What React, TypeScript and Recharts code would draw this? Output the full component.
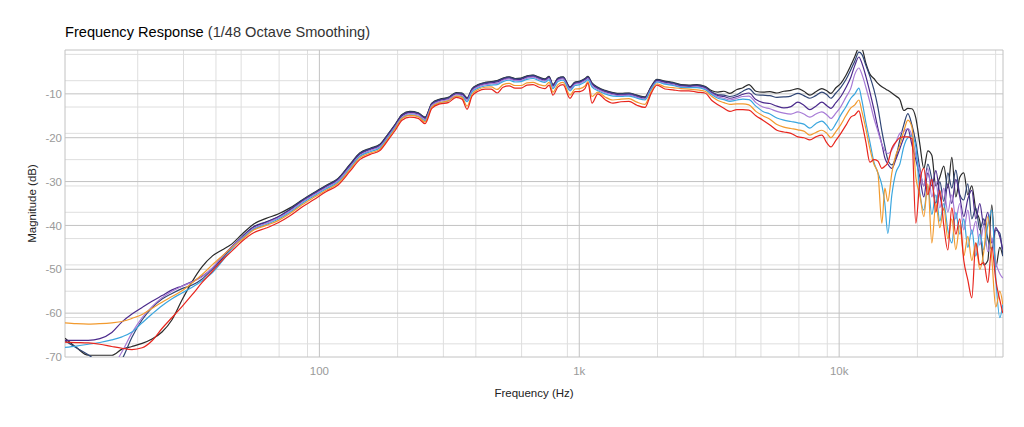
import { LineChart, Line, XAxis, YAxis, CartesianGrid, Label } from "recharts";

// frequency points (Hz)
const FREQS = [
  10.5, 11.6, 12.9, 14.3, 15.9, 17.4, 19.0, 20.8, 22.7, 24.8, 27.1, 29.6, 32.4, 35.4, 38.7, 42.2, 46.1, 50.4,
  56.1, 62.4, 69.4, 77.1, 85.8, 95.4, 106, 118, 131, 143, 157, 171, 184,
  196, 208, 223, 240, 255, 271, 291, 313, 336, 354, 370, 387, 408, 434, 458, 483, 509, 537, 566, 597, 629, 664,
  700, 738, 765, 792, 828, 866, 921, 963, 1006, 1052, 1080, 1119, 1180, 1256, 1348, 1447, 1553, 1667, 1789, 1887,
  1990, 2136, 2293, 2461, 2642, 2836, 3044,
  3238, 3416, 3601, 3797, 4042, 4262, 4495, 4782, 5088, 5414, 5760, 6129, 6522, 6938, 7315, 7715, 8135, 8580,
  8970, 9292, 9712, 10150, 10610, 11090,
  11490, 11910, 12230, 12670, 13130, 13600, 14090, 14600, 14990, 15390, 15950, 16520, 17120, 17740, 18380, 19040,
  19720, 20440, 21170, 21940, 22730, 23550, 24400, 25270, 26190, 27130, 28110, 29120, 30170, 31260, 32390, 33560,
  34770, 36020, 37320, 38670, 40060, 41510, 42620,
];

const BLACK = [
  -65.7, -67.8, -69.6, -69.6, -69.6, -68.2, -67.6, -66.9, -65.9, -64.3, -61.5, -57.0, -52.8, -49.4, -47.0, -45.6, -44.2, -42.0,
  -39.6, -38.4, -37.4, -36.0, -34.2, -32.5, -30.9, -29.3, -26.1, -23.5, -22.4, -21.5, -19.1,
  -16.9, -14.7, -14.0, -14.3, -15.3, -12.1, -11.2, -10.8, -9.7, -9.8, -10.9, -8.8, -7.9, -7.4, -7.2, -7.0, -6.4, -6.1,
  -6.5, -6.4, -5.9, -5.7, -6.2, -6.6, -6.0, -7.9, -6.4, -6.1, -8.4, -7.3, -7.1, -6.5, -6.0, -7.5, -8.5, -9.2, -9.7,
  -9.9, -9.8, -10.3, -10.7, -8.4, -6.7, -7.1, -7.4, -7.9, -8.0, -7.9, -8.3,
  -9.3, -9.6, -9.4, -9.9, -9.0, -8.6, -7.9, -9.4, -9.6, -9.5, -9.8, -9.4, -9.2, -8.8, -9.4, -10.3, -9.5, -8.8,
  -9.3, -9.9, -8.6, -7.6, -5.8, -3.5,
  -1.5, 0.5, 0.3, -3.0, -5.5, -6.5, -7.6, -8.4, -8.8, -9.2, -9.8, -10.5, -11.3, -13.8, -13.3, -13.4, -15.5, -21.5,
  -27.0, -23.0, -24.0, -31.0, -29.0, -26.5, -31.5, -24.5, -33.5, -29.0, -28.0, -33.0, -31.0, -36.5, -39.0, -49.0,
  -48.0, -35.3, -49.5, -45.0, -47.0,
];

const NAVY = [
  -66.3, -67.9, -69.5, -71.5, -73.0, -70.5, -65.5, -61.5, -58.8, -56.8, -55.5, -54.4, -53.6, -52.2, -50.0, -47.6, -45.0, -42.6,
  -40.2, -39.2, -38.0, -36.3, -34.3, -32.6, -31.0, -29.4, -26.2, -23.6, -22.5, -21.6, -19.2,
  -17.0, -14.8, -14.1, -14.4, -15.4, -12.2, -11.3, -10.9, -9.8, -9.9, -11.0, -8.9, -8.0, -7.5, -7.3, -7.1, -6.5, -6.2,
  -6.6, -6.5, -6.0, -5.8, -6.3, -6.7, -6.1, -8.0, -6.5, -6.2, -8.5, -7.4, -7.2, -6.6, -6.1, -7.6, -8.6, -9.3, -9.8,
  -10.0, -9.9, -10.4, -10.8, -8.5, -6.8, -7.2, -7.5, -8.0, -8.1, -8.0, -8.4,
  -9.6, -10.2, -10.3, -10.6, -10.2, -9.4, -8.8, -10.2, -10.3, -10.4, -10.8, -10.7, -10.5, -9.9, -10.4, -11.0, -10.4, -9.6,
  -10.2, -11.0, -9.8, -8.5, -6.8, -4.5,
  -2.5, -0.5, -1.0, -3.5, -6.0, -9.0, -13.0, -18.5, -22.0, -25.0, -26.2, -24.5, -20.5, -17.0, -14.5, -17.0, -21.0, -27.0,
  -31.0, -26.0, -29.5, -35.0, -30.0, -34.5, -28.0, -31.5, -27.4, -33.0, -34.2, -30.5, -38.5, -36.0, -41.0, -38.5,
  -43.0, -45.5, -41.0, -41.8, -47.0,
];

const PURPLE = [
  -66.2, -66.2, -66.2, -65.8, -64.4, -62.0, -60.2, -58.7, -57.3, -56.0, -54.7, -53.8, -52.8, -51.6, -49.8, -47.2, -44.8, -42.6,
  -40.3, -39.3, -38.1, -36.5, -34.5, -32.8, -31.2, -29.6, -26.4, -23.8, -22.7, -21.8, -19.4,
  -17.2, -15.0, -14.3, -14.6, -15.6, -12.4, -11.5, -11.1, -10.0, -10.1, -11.2, -9.1, -8.2, -7.7, -7.5, -7.3, -6.7, -6.4,
  -6.8, -6.7, -6.2, -6.0, -6.5, -6.9, -6.3, -8.2, -6.7, -6.4, -8.7, -7.6, -7.4, -6.8, -6.3, -7.8, -8.8, -9.5, -10.0,
  -10.2, -10.1, -10.6, -11.0, -8.7, -7.0, -7.4, -7.7, -8.2, -8.3, -8.2, -8.6,
  -9.8, -10.4, -10.6, -11.0, -10.6, -10.1, -9.8, -11.3, -12.0, -12.2, -12.8, -13.2, -12.9, -11.9, -12.6, -13.6, -12.8, -11.9,
  -12.7, -13.3, -12.0, -10.6, -8.6, -6.2,
  -3.5, -1.6, -3.0, -6.0, -9.6, -13.5, -17.8, -21.5, -24.6, -26.0, -27.0, -25.0, -22.5, -20.0, -18.0, -21.5, -25.0, -29.0,
  -33.5, -28.0, -31.0, -27.5, -33.0, -36.5, -30.5, -35.0, -29.5, -33.5, -38.0, -34.0, -32.0, -38.5, -35.0, -40.0,
  -37.0, -44.0, -40.5, -42.6, -45.5,
];

const LAVENDER = [
  -76.0, -76.0, -75.0, -74.0, -72.5, -68.8, -64.5, -61.0, -58.5, -56.5, -55.0, -53.9, -52.9, -51.7, -49.7, -47.2, -44.9, -42.8,
  -40.6, -39.5, -38.3, -36.7, -34.7, -33.0, -31.4, -29.8, -26.7, -24.1, -22.9, -22.0, -19.7,
  -17.4, -15.3, -14.5, -14.8, -15.9, -12.6, -11.7, -11.3, -10.2, -10.4, -11.5, -9.3, -8.4, -7.9, -7.7, -7.6, -6.9, -6.6,
  -7.0, -7.0, -6.4, -6.2, -6.7, -7.1, -6.5, -8.5, -6.9, -6.6, -9.0, -7.8, -7.6, -7.0, -6.6, -8.1, -9.0, -9.7, -10.2,
  -10.4, -10.3, -10.8, -11.2, -8.9, -7.2, -7.6, -7.9, -8.4, -8.5, -8.4, -8.8,
  -10.0, -10.7, -11.0, -11.4, -11.0, -10.6, -10.5, -12.0, -13.0, -13.4, -14.0, -14.4, -14.6, -14.1, -14.6, -15.3, -14.6, -14.1,
  -14.8, -15.6, -14.4, -12.9, -10.8, -8.7,
  -5.5, -4.1, -5.5, -8.5, -11.9, -15.5, -18.5, -21.5, -23.0, -23.6, -22.8, -21.0, -19.0, -18.5, -17.9, -19.5, -24.0, -27.5,
  -31.0, -27.0, -33.5, -30.0, -36.0, -31.5, -37.0, -33.0, -38.5, -35.0, -41.0, -36.5, -42.0, -39.0, -44.5, -40.0,
  -46.0, -43.0, -48.5, -51.0, -52.0,
];

const LIGHT_BLUE = [
  -67.8, -67.5, -67.1, -66.7, -66.1, -65.4, -64.3, -62.2, -60.2, -58.3, -56.7, -55.4, -54.1, -52.6, -50.8, -48.2, -45.3, -43.0,
  -40.8, -39.8, -38.6, -37.0, -35.0, -33.3, -31.7, -30.1, -27.0, -24.3, -23.2, -22.3, -19.9,
  -17.7, -15.5, -14.8, -15.1, -16.1, -12.9, -12.0, -11.6, -10.5, -10.6, -11.8, -9.6, -8.7, -8.2, -8.0, -7.9, -7.2, -6.9,
  -7.3, -7.2, -6.7, -6.5, -7.0, -7.4, -6.8, -8.8, -7.2, -6.9, -9.3, -8.1, -7.9, -7.3, -6.8, -8.4, -9.3, -10.0, -10.5,
  -10.6, -10.5, -11.0, -11.4, -9.1, -7.3, -7.8, -8.1, -8.5, -8.6, -8.6, -9.0,
  -10.2, -11.0, -11.3, -11.7, -11.4, -11.2, -11.3, -12.8, -14.0, -14.6, -15.5, -16.0, -16.3, -16.6, -16.9, -17.8, -16.8, -16.2,
  -17.2, -18.3, -16.8, -14.8, -13.0, -11.0,
  -10.0, -8.7, -11.5, -16.5, -21.0, -25.5, -28.0, -30.8, -35.0, -41.8, -33.0, -28.0, -26.0, -22.0, -20.0, -19.6, -22.0, -32.5,
  -36.5, -31.0, -37.5, -33.0, -39.0, -35.0, -41.0, -44.0, -37.0, -42.0, -38.5, -45.0, -41.0, -47.0, -42.0, -45.5,
  -40.0, -36.5, -52.0, -61.0, -58.0,
];

const ORANGE = [
  -62.2, -62.4, -62.5, -62.4, -62.2, -61.9, -61.2, -60.3, -58.9, -57.5, -56.2, -54.9, -53.1, -51.2, -49.0, -47.0, -45.0, -43.2,
  -41.0, -40.0, -38.9, -37.3, -35.3, -33.6, -32.0, -30.4, -27.3, -24.6, -23.5, -22.6, -20.2,
  -17.9, -15.6, -14.9, -15.2, -16.4, -13.0, -12.0, -11.6, -10.5, -10.8, -12.8, -10.1, -9.0, -8.5, -8.4, -9.0, -7.9, -7.6,
  -8.1, -8.1, -7.5, -7.4, -7.9, -8.2, -7.4, -9.6, -7.9, -7.4, -10.3, -8.9, -8.8, -8.2, -7.2, -10.6, -9.6, -10.7, -11.4,
  -11.2, -11.1, -11.9, -12.4, -9.6, -7.7, -8.4, -8.6, -8.8, -8.9, -9.1, -9.4,
  -10.6, -11.5, -12.0, -12.4, -12.3, -12.3, -12.5, -14.0, -15.0, -15.8, -17.0, -17.6, -17.9, -18.2, -18.5, -19.4, -18.8, -18.3,
  -19.0, -20.0, -18.6, -17.0, -15.0, -13.2,
  -12.5, -11.4, -14.0, -18.0, -22.5, -26.0, -28.0, -39.5, -31.5, -34.5, -28.0, -24.0, -21.7, -18.5, -16.0, -17.5, -29.0, -33.0,
  -38.0, -30.5, -44.0, -35.0, -40.5, -36.0, -43.0, -38.5, -45.5, -40.0, -47.0, -42.5, -48.0, -44.0, -50.0, -46.0,
  -38.0, -47.5, -58.6, -55.0, -58.0,
];

const RED = [
  -66.6, -66.7, -66.8, -67.1, -67.6, -68.0, -68.3, -67.9, -66.3, -63.5, -61.0, -58.5, -55.8, -53.0, -50.5, -48.0, -45.8, -43.6,
  -41.6, -40.6, -39.4, -37.8, -35.8, -34.1, -32.3, -30.8, -27.7, -25.0, -23.8, -22.9, -20.5,
  -18.3, -16.0, -15.3, -15.6, -16.8, -13.3, -12.3, -12.0, -10.8, -11.2, -13.5, -10.5, -9.4, -8.9, -8.9, -9.8, -8.5, -8.2,
  -8.7, -8.7, -8.0, -7.9, -8.5, -8.8, -8.0, -10.3, -8.4, -7.9, -11.0, -9.5, -9.5, -8.8, -7.5, -12.1, -10.0, -11.3, -12.1,
  -11.8, -11.7, -12.6, -13.1, -10.0, -8.0, -8.9, -9.1, -9.3, -9.3, -9.6, -9.8,
  -11.5, -12.5, -13.3, -14.0, -13.6, -13.6, -13.7, -15.0, -16.0, -17.1, -18.3, -18.7, -19.0, -19.8, -20.0, -20.5, -19.8, -19.4,
  -21.2, -22.1, -20.6, -19.0, -17.2, -15.3,
  -14.8, -13.9, -16.5, -21.0, -25.6, -25.0, -25.3, -27.0, -26.5, -25.7, -22.4, -21.0, -20.0, -19.8, -19.8, -20.2, -39.5, -30.0,
  -27.0, -33.0, -29.5, -37.0, -32.0, -40.0, -45.6, -36.0, -42.0, -38.5, -48.0, -52.4, -56.5, -44.0, -49.0, -48.5,
  -53.0, -45.0, -52.5, -57.0, -60.0,
];

const X_TICKS = [100, 1000, 10000];
const Y_TICKS = [-70, -60, -50, -40, -30, -20, -10];
const X_MINOR = [20, 30, 40, 50, 60, 70, 80, 90, 200, 300, 400, 500, 600, 700, 800, 900, 2000, 3000, 4000, 5000, 6000, 7000, 8000, 9000, 20000, 30000, 40000];
const X_MAJOR = [10.5, 100, 1000, 10000, 42700];
const Y_MINOR = Array.from({ length: 71 }, (_, i) => -70 + i).filter((v) => v % 10 !== 0);
const Y_MAJOR = [-70, -60, -50, -40, -30, -20, -10, 0];

const SERIES = [
  { key: "black", color: "#2a2a2a", values: BLACK },
  { key: "navy", color: "#2f4575", values: NAVY },
  { key: "purple", color: "#4b2a8c", values: PURPLE },
  { key: "lavender", color: "#a77ad6", values: LAVENDER },
  { key: "lightBlue", color: "#3aa6df", values: LIGHT_BLUE },
  { key: "orange", color: "#f29a2e", values: ORANGE },
  { key: "red", color: "#e8251d", values: RED },
];

const rows = FREQS.map((f, i) => {
  const row: Record<string, number> = { f };
  SERIES.forEach((s) => {
    row[s.key] = s.values[i];
  });
  return row;
});

const formatHz = (v: number) => (v >= 1000 ? `${v / 1000}k` : `${v}`);

const FONT = '"Liberation Sans", Arial, Helvetica, sans-serif';

export default function App() {
  return (
    <div style={{ position: "relative", width: 1008, height: 411, fontFamily: FONT }}>
      <div
        style={{
          position: "absolute",
          left: 57,
          top: 16,
          fontSize: 14.6,
          whiteSpace: "nowrap",
          lineHeight: "17px",
        }}
      >
        <span style={{ color: "#000" }}>Frequency Response</span>{" "}
        <span style={{ color: "#333" }}>(1/48 Octave Smoothing)</span>
      </div>
      <LineChart
        width={1008}
        height={411}
        data={rows}
        margin={{ top: 42, right: 13, left: 20, bottom: 17 }}
      >
        <CartesianGrid
          stroke="#dedede"
          strokeWidth={1}
          horizontalValues={Y_MINOR}
          verticalValues={X_MINOR}
        />
        <CartesianGrid
          stroke="#c2c2c2"
          strokeWidth={1}
          horizontalValues={Y_MAJOR}
          verticalValues={X_MAJOR}
        />
        <XAxis
          dataKey="f"
          type="number"
          scale="log"
          domain={[10.5, 42700]}
          allowDataOverflow
          ticks={X_TICKS}
          tickFormatter={formatHz}
          axisLine={false}
          tickLine={false}
          tickSize={0}
          tickMargin={10}
          height={45}
          tick={{ fontSize: 11.5, fill: "#9a9a9a", fontFamily: FONT }}
        >
          <Label
            value="Frequency (Hz)"
            position="insideBottom"
            offset={5}
            style={{ fontSize: 11.5, fill: "#222", fontFamily: FONT }}
          />
        </XAxis>
        <YAxis
          type="number"
          domain={[-70, 0]}
          allowDataOverflow
          ticks={Y_TICKS}
          axisLine={false}
          tickLine={false}
          tickSize={0}
          tickMargin={3}
          width={37}
          tick={{ fontSize: 11.5, fill: "#9a9a9a", fontFamily: FONT }}
        >
          <Label
            value="Magnitude (dB)"
            angle={-90}
            position="insideLeft"
            offset={4}
            style={{ fontSize: 11.5, fill: "#222", fontFamily: FONT, textAnchor: "middle" }}
          />
        </YAxis>
        {SERIES.map((s) => (
          <Line
            key={s.key}
            dataKey={s.key}
            type="monotone"
            stroke={s.color}
            strokeWidth={1.2}
            dot={false}
            activeDot={false}
            isAnimationActive={false}
          />
        ))}
      </LineChart>
    </div>
  );
}
